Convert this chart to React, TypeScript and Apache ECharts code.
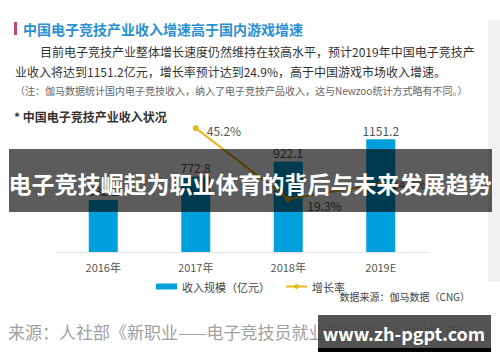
import React, { useEffect, useRef } from "react";
import * as echarts from "echarts";

const years = ["2016年", "2017年", "2018年", "2019E"];
const revenue = [532.2, 772.8, 922.1, 1151.2];
const growth = [null, 45.2, 19.3, 24.9];
const growthLabelOffsets = [[0, 0], [0, 2], [8, 6], [0, 0]];

const FONT = "'Noto Sans CJK SC', 'Noto Sans', sans-serif";

export default function App() {
  const ref = useRef<HTMLDivElement>(null);
  useEffect(() => {
    if (!ref.current) return;
    const chart = echarts.init(ref.current, null, { renderer: "svg" });
    const lineData = growth.map((v, i) => ({
      value: v,
      label: { offset: growthLabelOffsets[i] },
    }));
    chart.setOption({
      animation: false,
      backgroundColor: "#ffffff",
      textStyle: { fontFamily: FONT },
      grid: { left: 57, right: 73, top: 115, bottom: 110 },
      xAxis: {
        type: "category",
        data: years,
        axisLine: { lineStyle: { color: "#e2e2e2", width: 1 } },
        axisTick: { show: false },
        axisLabel: { color: "#555", fontSize: 11, margin: 9, fontFamily: FONT },
      },
      yAxis: [
        { type: "value", min: 0, max: 1400, show: false, splitLine: { show: false } },
        { type: "value", min: 0, max: 50, show: false, splitLine: { show: false } },
      ],
      legend: {
        left: 151,
        top: 276,
        itemGap: 15,
        itemWidth: 21,
        itemHeight: 6,
        textStyle: { color: "#444", fontSize: 11, fontFamily: FONT },
        data: [
          { name: "收入规模（亿元）", icon: "rect" },
          { name: "增长率" },
        ],
      },
      series: [
        {
          name: "收入规模（亿元）",
          type: "bar",
          data: revenue,
          barWidth: 29,
          itemStyle: { color: "#00a0dc" },
          label: { show: true, position: "top", distance: 3, color: "#555", fontSize: 12, fontFamily: FONT },
        },
        {
          name: "增长率",
          type: "line",
          yAxisIndex: 1,
          data: lineData,
          connectNulls: false,
          symbol: "circle",
          symbolSize: 6,
          lineStyle: { color: "#e8b620", width: 2 },
          itemStyle: { color: "#e8b620" },
          label: {
            show: true,
            position: "right",
            distance: 8,
            color: "#555",
            fontSize: 12,
            fontFamily: FONT,
            formatter: (p: any) => (p.value == null ? "" : p.value + "%"),
          },
          z: 3,
        },
      ],
      graphic: [
        { type: "rect", shape: { x: 488, y: 20, width: 12, height: 262 }, style: { fill: "#f1f1f1" }, z: 1 },
        { type: "rect", shape: { x: 14, y: 22, width: 3, height: 13 }, style: { fill: "#c8407c" }, z: 1 },
        {
          type: "text", x: 23, y: 29, z: 1,
          style: { text: "中国电子竞技产业收入增速高于国内游戏增速", fill: "#2b8fd3", fontSize: 14, fontWeight: "bold", fontFamily: FONT, verticalAlign: "middle" },
        },
        {
          type: "text", x: 40, y: 51, z: 1,
          style: { text: "目前电子竞技产业整体增长速度仍然维持在较高水平，预计2019年中国电子竞技产", fill: "#333", fontSize: 12, fontFamily: FONT, verticalAlign: "middle" },
        },
        {
          type: "text", x: 15, y: 71, z: 1,
          style: { text: "业收入将达到1151.2亿元，增长率预计达到24.9%，高于中国游戏市场收入增速。", fill: "#333", fontSize: 12, fontFamily: FONT, verticalAlign: "middle" },
        },
        {
          type: "text", x: 15, y: 90, z: 1,
          style: { text: "（注：伽马数据统计国内电子竞技收入，纳入了电子竞技产品收入，这与Newzoo统计方式略有不同。）", fill: "#666", fontSize: 10, fontFamily: FONT, verticalAlign: "middle" },
        },
        {
          type: "text", x: 14, y: 116, z: 1,
          style: { text: "* 中国电子竞技产业收入状况", fill: "#333", fontSize: 12, fontWeight: "bold", fontFamily: FONT, verticalAlign: "middle" },
        },
        {
          type: "text", x: 470, y: 296, z: 1,
          style: { text: "数据来源：伽马数据（CNG）", fill: "#444", fontSize: 10, fontFamily: FONT, align: "right", verticalAlign: "middle" },
        },
        {
          type: "text", x: 8, y: 331, z: 1,
          style: { text: "来源：人社部《新职业——电子竞技员就业景气现状分析报告》", fill: "#a0a0a0", fontSize: 17, fontFamily: FONT, verticalAlign: "middle" },
        },
        { type: "rect", shape: { x: 9, y: 149, width: 483, height: 63 }, style: { fill: "rgba(0,0,0,0.64)" }, z: 100 },
        {
          type: "text", x: 250, y: 183, z: 101,
          style: { text: "电子竞技崛起为职业体育的背后与未来发展趋势", fill: "#ffffff", fontSize: 23, fontWeight: "bold", fontFamily: FONT, align: "center", verticalAlign: "middle" },
        },
        { type: "rect", shape: { x: 318, y: 315, width: 173, height: 33 }, style: { fill: "rgba(70,70,70,0.93)" }, z: 100 },
        { type: "rect", shape: { x: 318, y: 348, width: 173, height: 4 }, style: { fill: "#000" }, z: 100 },
        {
          type: "text", x: 404, y: 333, z: 101,
          style: { text: "www.zh-pgpt.com", fill: "#ffffff", fontSize: 18, fontWeight: "bold", fontFamily: FONT, align: "center", verticalAlign: "middle" },
        },
      ],
    });
    return () => chart.dispose();
  }, []);
  return (
    <div
      ref={ref}
      style={{ position: "fixed", left: 0, top: 0, width: 500, height: 362 }}
    />
  );
}
